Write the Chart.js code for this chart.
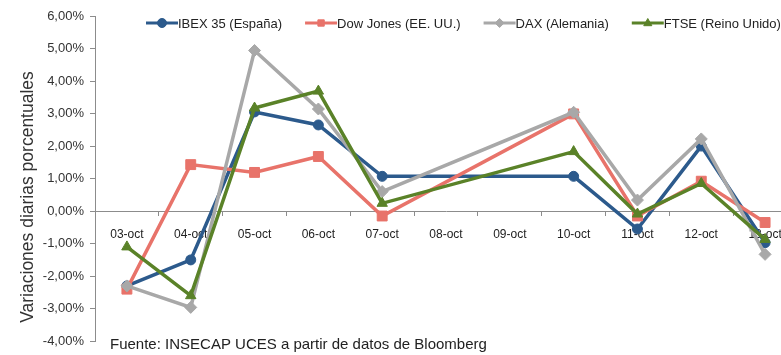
<!DOCTYPE html>
<html><head><meta charset="utf-8">
<script src="https://cdn.jsdelivr.net/npm/chart.js@4/dist/chart.umd.min.js"></script>
<style>
html,body{margin:0;padding:0;background:#fff;overflow:hidden;width:781px;height:355px}
#wrap{position:absolute;left:0;top:0;width:805px;height:355px}
</style>
</head><body><div id="wrap"><canvas id="c" width="805" height="355"></canvas></div>
<script>
const categories = ['03-oct','04-oct','05-oct','06-oct','07-oct','08-oct','09-oct','10-oct','11-oct','12-oct','13-oct'];
const seriesNames = ['IBEX 35 (España)','Dow Jones (EE. UU.)','DAX (Alemania)','FTSE (Reino Unido)'];
const ibex     = [-2.30, -1.50, 3.05, 2.65,  1.07, null, null, 1.07, -0.55, 2.00, -0.97];
const dowJones = [-2.40,  1.43, 1.19, 1.68, -0.15, null, null, 2.99, -0.15, 0.92, -0.35];
const dax      = [-2.30, -2.96, 4.94, 3.14,  0.60, null, null, 3.04,  0.34, 2.22, -1.33];
const ftse     = [-1.10, -2.60, 3.17, 3.69,  0.24, null, null, 1.83, -0.09, 0.85, -0.87];
const yMin = -4, yMax = 6, yStep = 1;
const axisTitle = 'Variaciones diarias porcentuales';
const sourceNote = 'Fuente: INSECAP UCES a partir de datos de Bloomberg';

const FONT = '"Liberation Sans", Arial, sans-serif';
const colors = ['#2C5A8C', '#E8736A', '#A8A8A8', '#5A8228'];
const styles = ['circle', 'rect', 'rectRot', 'triangle'];
const radii = [5, 7, 6, 6];
const values = [ibex, dowJones, dax, ftse];

function marker(ctx, style, x, y, r, color) {
  ctx.save();
  ctx.fillStyle = color; ctx.strokeStyle = color; ctx.lineWidth = 1;
  ctx.beginPath();
  if (style === 'circle') ctx.arc(x, y, r, 0, Math.PI * 2);
  else if (style === 'rect') { const s = r * 0.7071; ctx.rect(x - s, y - s, 2 * s, 2 * s); }
  else if (style === 'rectRot') { ctx.moveTo(x, y - r); ctx.lineTo(x + r, y); ctx.lineTo(x, y + r); ctx.lineTo(x - r, y); ctx.closePath(); }
  else { ctx.moveTo(x, y - r); ctx.lineTo(x + r * 0.9, y + r * 0.6); ctx.lineTo(x - r * 0.9, y + r * 0.6); ctx.closePath(); }
  ctx.fill(); ctx.stroke();
  ctx.restore();
}

const annot = {
  id: 'annot',
  afterDraw(chart) {
    const ctx = chart.ctx;
    ctx.save();
    // legend
    ctx.font = '13px ' + FONT;
    ctx.textBaseline = 'middle'; ctx.textAlign = 'left';
    let x = 146; const y = 23;
    chart.data.datasets.forEach((ds, i) => {
      ctx.strokeStyle = colors[i]; ctx.lineWidth = 3;
      ctx.beginPath(); ctx.moveTo(x, y); ctx.lineTo(x + 32, y); ctx.stroke();
      marker(ctx, styles[i], x + 16, y, 4.5, colors[i]);
      ctx.fillStyle = '#222';
      ctx.fillText(ds.label, x + 32, y + 1);
      x += 32 + ctx.measureText(ds.label).width + 23;
    });
    // axis title
    ctx.save();
    ctx.translate(28, 197); ctx.rotate(-Math.PI / 2);
    ctx.font = '17.5px ' + FONT; ctx.fillStyle = '#333'; ctx.textAlign = 'center'; ctx.textBaseline = 'middle';
    ctx.fillText(axisTitle, 0, 0);
    ctx.restore();
    // source note
    ctx.font = '15px ' + FONT; ctx.fillStyle = '#222'; ctx.textAlign = 'left'; ctx.textBaseline = 'middle';
    ctx.fillText(sourceNote, 110, 345);
    ctx.restore();
  }
};

new Chart(document.getElementById('c'), {
  type: 'line',
  data: {
    labels: categories,
    datasets: values.map((v, i) => ({
      label: seriesNames[i],
      data: v,
      borderColor: colors[i],
      backgroundColor: colors[i],
      borderWidth: 3.5,
      pointStyle: styles[i],
      pointRadius: radii[i],
      pointBorderWidth: 1,
      pointBackgroundColor: colors[i],
      spanGaps: true,
      tension: 0,
      order: 4 - i
    }))
  },
  options: {
    responsive: false,
    animation: false,
    layout: { padding: { left: 0, right: 6, top: 16, bottom: 11 } },
    plugins: { legend: { display: false }, tooltip: { enabled: false }, title: { display: false } },
    scales: {
      x: {
        type: 'category',
        offset: true,
        position: { y: 0 },
        grid: { drawOnChartArea: false, drawTicks: true, tickLength: 4, color: '#8c8c8c', offset: true },
        border: { color: '#8c8c8c', width: 1 },
        ticks: { font: { size: 12, family: FONT }, color: '#222', padding: 12, maxRotation: 0, autoSkip: false }
      },
      y: {
        min: yMin, max: yMax,
        grid: { drawOnChartArea: false, drawTicks: true, tickLength: 5, color: '#8c8c8c' },
        border: { color: '#8c8c8c', width: 1 },
        ticks: {
          stepSize: yStep, font: { size: 13, family: FONT }, color: '#333', padding: 6,
          callback: v => v.toFixed(2).replace('.', ',') + '%'
        },
        afterFit: s => { s.width = 95; }
      }
    }
  },
  plugins: [annot]
});
</script>
</body></html>
